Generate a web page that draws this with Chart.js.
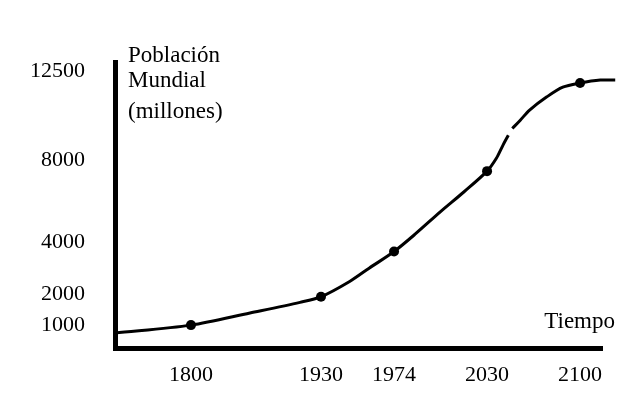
<!DOCTYPE html>
<html lang="es">
<head>
<meta charset="utf-8">
<title>Población mundial</title>
<script src="https://cdn.jsdelivr.net/npm/chart.js@4.4.1/dist/chart.umd.min.js"></script>
<style>
  html, body { margin: 0; padding: 0; background: #fff; }
  #wrap { width: 640px; height: 412px; }
</style>
</head>
<body>
<div id="wrap"><canvas id="pop-chart"></canvas></div>
<script>
// marked years on the curve (millones)
const markYears  = [1800, 1930, 1974, 2030, 2100];
const markValues = [1000, 1910, 3630, 7460, 11900];

// curve (null = the little break in the stroke)
const curveYears  = [1750, 1800, 1859, 1909, 1930, 1947, 1959, 1974, 1987, 2002, 2016, 2030, 2037, 2042, 2046, 2048, 2049, 2055, 2062, 2075, 2087, 2100, 2115, 2126];
const curveValues = [650, 1000, 1390, 1730, 1910, 2470, 2990, 3630, 4400, 5480, 6440, 7460, 8090, 8760, 9260, null, 9600, 10020, 10530, 11200, 11690, 11900, 12050, 12050];

const xTicks = [1800, 1930, 1974, 2030, 2100];
const yTicks = [1000, 2000, 4000, 8000, 12500];

const yTitle = ["Población", "Mundial", "(millones)"];
const xTitle = "Tiempo";

// the drawing is not to scale: piecewise axes, [value, fraction of axis]
const warps = {
  x: [[1750, 0], [1800, 0.156], [1930, 0.423], [1974, 0.573], [2030, 0.764], [2100, 0.955], [2140, 1.066]],
  y: [[0, 0], [1000, 0.080], [2000, 0.189], [4000, 0.371], [8000, 0.657], [12500, 0.968], [13000, 1]]
};

class WarpScale extends Chart.LinearScale {
  getPixelForValue(value) {
    const w = warps[this.id];
    let i = 1;
    while (i < w.length - 1 && value > w[i][0]) i++;
    const [v0, f0] = w[i - 1], [v1, f1] = w[i];
    return this.getPixelForDecimal(f0 + (value - v0) / (v1 - v0) * (f1 - f0));
  }
  getValueForPixel(pixel) {
    const w = warps[this.id];
    const f = this.getDecimalForPixel(pixel);
    let i = 1;
    while (i < w.length - 1 && f > w[i][1]) i++;
    const [v0, f0] = w[i - 1], [v1, f1] = w[i];
    return v0 + (f - f0) / (f1 - f0) * (v1 - v0);
  }
}
WarpScale.id = 'warp';
WarpScale.defaults = Chart.LinearScale.defaults;
Chart.register(WarpScale);

const axisTitles = {
  id: 'axisTitles',
  afterDraw(chart) {
    const ctx = chart.ctx, a = chart.chartArea;
    ctx.save();
    ctx.font = '23px "Liberation Serif"';
    ctx.fillStyle = '#000';
    ctx.textBaseline = 'alphabetic';
    ctx.textAlign = 'left';
    const lineOffsets = [0, 25, 56];
    yTitle.forEach((t, i) => ctx.fillText(t, a.left + 13, a.top + lineOffsets[i]));
    ctx.textAlign = 'right';
    ctx.fillText(xTitle, a.right + 13, a.bottom - 20);
    ctx.restore();
  }
};

const tickFont = { family: '"Liberation Serif"', size: 22 };

new Chart(document.getElementById('pop-chart'), {
  type: 'line',
  data: {
    datasets: [
      {
        data: curveYears.map((x, i) => ({ x: x, y: curveValues[i] })),
        borderColor: '#000',
        borderWidth: 3,
        pointRadius: 0,
        tension: 0.3,
        spanGaps: false,
        clip: false
      },
      {
        data: markYears.map((x, i) => ({ x: x, y: markValues[i] })),
        showLine: false,
        pointRadius: 5,
        pointBorderWidth: 0,
        pointBackgroundColor: '#000',
        clip: false
      }
    ]
  },
  options: {
    animation: false,
    responsive: true,
    maintainAspectRatio: false,
    events: [],
    layout: { padding: { top: 62, right: 38, left: 0, bottom: 0 } },
    plugins: {
      legend: { display: false },
      tooltip: { enabled: false }
    },
    scales: {
      x: {
        type: 'warp',
        grid: { display: false },
        border: { color: '#000', width: 5 },
        ticks: {
          color: '#000',
          font: tickFont,
          padding: 6,
          autoSkip: false,
          maxRotation: 0,
          callback: v => String(v)
        },
        afterBuildTicks: s => { s.ticks = xTicks.map(v => ({ value: v })); },
        afterFit: s => { s.height = 64; }
      },
      y: {
        type: 'warp',
        grid: { display: false },
        border: { color: '#000', width: 5 },
        ticks: {
          color: '#000',
          font: tickFont,
          padding: 22,
          autoSkip: false,
          callback: v => String(v)
        },
        afterBuildTicks: s => { s.ticks = yTicks.map(v => ({ value: v })); },
        afterFit: s => { s.width = 115; }
      }
    }
  },
  plugins: [axisTitles]
});
</script>
</body>
</html>
